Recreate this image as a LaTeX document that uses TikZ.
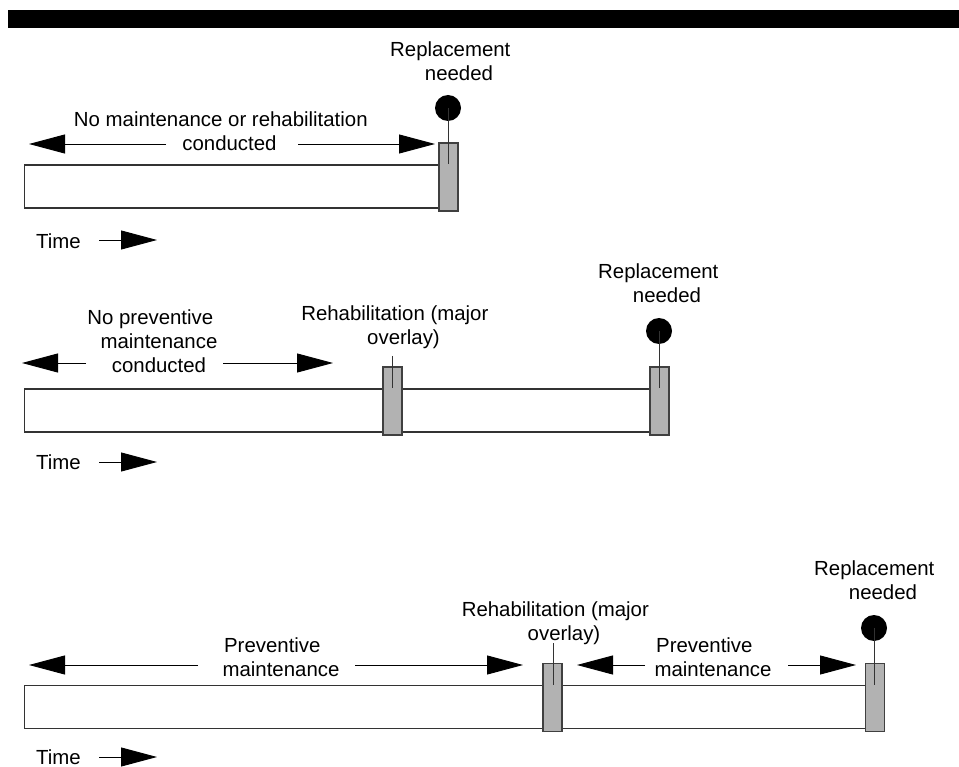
\documentclass[tikz,border=0pt]{standalone}
\usepackage{fontspec}
\setmainfont{Liberation Sans}
\usetikzlibrary{arrows.meta}
\begin{document}
\begin{tikzpicture}[x=1pt,y=-1pt,
  lbl/.style={font=\fontsize{20.4}{24}\selectfont, align=center, inner sep=0pt},
  timelbl/.style={font=\fontsize{20.4}{24}\selectfont, inner sep=0pt, anchor=base west},
  barbox/.style={draw=black!80, line width=1.1pt, fill=white, minimum height=43pt, inner sep=0pt, anchor=west},
  post/.style={draw=black!75, fill=black!30, line width=1.1pt, minimum width=19pt, minimum height=68pt, inner sep=0pt},
  pin/.style={circle, fill=black, minimum size=26pt, inner sep=0pt},
  pinline/.style={draw=black!80, line width=0.9pt},
  span/.style={line width=0.9pt, -{Triangle[length=36pt,width=19pt]}},
]
\useasboundingbox (0,0) rectangle (959,767);
% top band
\fill[black] (8,10) rectangle (959,28);

% ---------- panel 1 ----------
\node[barbox, minimum width=424pt] (bar1) at (24,186.5) {};
\node[post] (p1) at (448.5,177) {};
\node[pin] (c1) at (448,108) {};
\draw[pinline] (c1.center) -- (c1.center |- bar1.north);
\node[lbl] (r1) at (459,61.2) {Replacement\hspace*{0.85em}\\needed};
\node[lbl] (a1) at (229.5,131.7) {No maintenance or rehabilitation\hspace*{0.85em}\\conducted};
\coordinate (a1ls) at (166,144); \coordinate (a1lt) at (29,144);
\coordinate (a1rs) at (298,144); \coordinate (a1rt) at (435,144);
\draw[span] (a1ls) -- (a1lt);
\draw[span] (a1rs) -- (a1rt);
\node[timelbl] (t1) at (36,249) {Time};
\coordinate (t1s) at (99,240); \coordinate (t1t) at (157,240);
\draw[span] (t1s) -- (t1t);

% ---------- panel 2 ----------
\node[barbox, minimum width=635pt] (bar2) at (24,410.5) {};
\node[post] (p2a) at (392.5,401) {};
\node[post] (p2b) at (659.5,401) {};
\node[pin] (c2) at (659,331) {};
\draw[pinline] (c2.center) -- (c2.center |- bar2.north);
\coordinate (k2) at (392.5,356);
\draw[pinline] (k2) -- (k2 |- bar2.north);
\node[lbl] (r2) at (667,283.2) {Replacement\hspace*{0.85em}\\needed};
\node[lbl] (b2) at (403.5,326.9) {Rehabilitation (major\hspace*{0.85em}\\overlay)};
\node[lbl] (a2) at (159,341.7) {No preventive\hspace*{0.85em}\\maintenance\\conducted};
\coordinate (a2ls) at (86,363); \coordinate (a2lt) at (22,363);
\coordinate (a2rs) at (223,363); \coordinate (a2rt) at (333,363);
\draw[span] (a2ls) -- (a2lt);
\draw[span] (a2rs) -- (a2rt);
\node[timelbl] (t2) at (36,469) {Time};
\coordinate (t2s) at (99,462); \coordinate (t2t) at (157,462);
\draw[span] (t2s) -- (t2t);

% ---------- panel 3 ----------
\node[barbox, minimum width=851pt] (bar3) at (24,707) {};
\node[post] (p3a) at (552.5,697.5) {};
\node[post] (p3b) at (875,697.5) {};
\node[pin] (c3) at (874,628) {};
\draw[pinline] (c3.center) -- (c3.center |- bar3.north);
\coordinate (k3) at (553,643);
\draw[pinline] (k3) -- (k3 |- bar3.north);
\node[lbl] (r3) at (883,580.2) {Replacement\hspace*{0.85em}\\needed};
\node[lbl] (b3) at (564,623.4) {Rehabilitation (major\hspace*{0.85em}\\overlay)};
\node[lbl] (m1) at (281,657.7) {Preventive\hspace*{0.85em}\\maintenance};
\node[lbl] (m2) at (713,657.7) {Preventive\hspace*{0.85em}\\maintenance};
\coordinate (m1ls) at (198,665); \coordinate (m1lt) at (29,665);
\coordinate (m1rs) at (355,665); \coordinate (m1rt) at (523,665);
\coordinate (m2ls) at (645,665); \coordinate (m2lt) at (577,665);
\coordinate (m2rs) at (788,665); \coordinate (m2rt) at (856,665);
\draw[span] (m1ls) -- (m1lt);
\draw[span] (m1rs) -- (m1rt);
\draw[span] (m2ls) -- (m2lt);
\draw[span] (m2rs) -- (m2rt);
\node[timelbl] (t3) at (36,764) {Time};
\coordinate (t3s) at (99,757); \coordinate (t3t) at (157,757);
\draw[span] (t3s) -- (t3t);
\end{tikzpicture}
\end{document}
